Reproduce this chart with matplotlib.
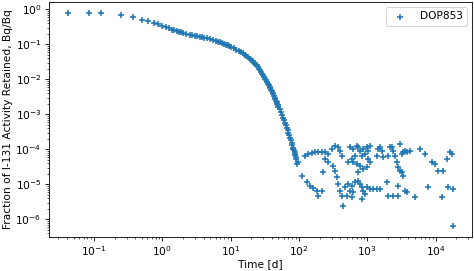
import matplotlib
matplotlib.use("Agg")
import matplotlib.pyplot as plt

# Smooth part of the retention curve (time in days, fraction retained)
curve_t = [0.0417, 0.0833, 0.125, 0.25, 0.375, 0.5, 0.625, 0.75, 0.875, 1.0,
           1.125, 1.25, 1.375, 1.5, 1.625, 1.75, 1.875, 2.0, 2.25, 2.5,
           2.75, 3.0, 3.25, 3.5, 3.75, 4.0, 4.5, 5.0, 5.5, 6.0,
           6.5, 7.0, 7.5, 8.0, 8.5, 9.0, 9.5, 10, 11, 12,
           13, 14, 15, 16, 17, 18, 19, 20, 21, 22,
           23, 24, 25, 26, 27, 28, 29, 30, 31, 32,
           33, 34, 35, 36, 37, 38, 39, 40, 41, 42,
           43, 44, 45, 46, 47, 48, 49, 50, 52, 54,
           56, 58, 60, 62, 64, 66, 68, 70, 72, 74,
           76, 78, 80, 82, 84, 86, 88, 90]
curve_f = [0.81, 0.79, 0.79, 0.70, 0.60, 0.51, 0.45, 0.41, 0.37, 0.34,
           0.31, 0.285, 0.265, 0.25, 0.238, 0.228, 0.22, 0.212, 0.20, 0.19,
           0.182, 0.175, 0.17, 0.165, 0.16, 0.155, 0.147, 0.14, 0.133, 0.126,
           0.12, 0.114, 0.108, 0.103, 0.098, 0.094, 0.089, 0.085, 0.078, 0.071,
           0.065, 0.060, 0.055, 0.051, 0.047, 0.043, 0.039, 0.036, 0.033, 0.030,
           0.0275, 0.025, 0.0225, 0.020, 0.018, 0.016, 0.0145, 0.013, 0.0116, 0.0104,
           0.0094, 0.0084, 0.0076, 0.0069, 0.0062, 0.0056, 0.0051, 0.0046, 0.0041, 0.0037,
           0.0033, 0.0030, 0.0027, 0.0024, 0.0022, 0.0020, 0.0018, 0.00165, 0.00138, 0.00115,
           0.00095, 0.00080, 0.00068, 0.00058, 0.00049, 0.00041, 0.00035, 0.00029, 0.00025, 0.00021,
           0.00018, 0.00015, 0.00013, 0.00011, 9.5e-5, 8.2e-5, 7.0e-5, 6.0e-5]

# Noisy tail (solver noise floor, only positive values show on log axis)
tail_t = [80.5, 86.2, 89.1, 92.2, 95.3, 109, 121, 129, 134, 143,
          153, 158, 169, 181, 187, 187, 214, 214, 222, 237,
          237, 262, 262, 301, 311, 333, 333, 356, 368, 368,
          394, 394, 421, 421, 436, 466, 552, 611, 699, 723,
          774, 857, 980, 1084, 1014, 916, 828, 653, 591, 516,
          611, 699, 774, 723, 857, 980, 1014, 1084, 1420, 1626,
          1373, 1682, 1991, 2278, 2357, 2522, 2698, 2790, 2985, 2985,
          3533, 3780, 516, 591, 653, 723, 552, 611, 499, 591,
          774, 828, 857, 916, 828, 980, 1084, 1200, 1373, 1520,
          1924, 1991, 2357, 2790, 3533, 1520, 2130, 3193, 3304, 4188,
          3193, 3304, 5866, 6946, 8790, 9730, 10770, 12760, 14600, 16150,
          17290, 3780, 4955, 7686, 12330, 15100, 17880, 17880, 2790]
tail_f = [1.03e-4, 7.4e-5, 5.4e-5, 3.9e-5, 4.4e-5, 1.75e-5, 6.5e-5, 1.18e-5, 7.4e-5, 9.1e-6,
          7.9e-5, 7.9e-6, 8.5e-5, 6.5e-6, 8.5e-5, 4.7e-6, 8.5e-5, 6.5e-6, 2.3e-5, 8.5e-5,
          5.4e-5, 7.4e-5, 4.4e-5, 1.03e-4, 3.4e-5, 1.26e-4, 2.4e-5, 1.64e-5, 1.18e-4, 1.03e-5,
          9.1e-5, 6.5e-6, 6.5e-5, 4.7e-6, 2.4e-6, 8.5e-6, 1.18e-4, 1.03e-4, 1.26e-4, 1.18e-4,
          9.1e-5, 1.03e-4, 1.18e-4, 1.26e-4, 9.1e-5, 7.4e-5, 6.5e-5, 6.5e-5, 5.4e-5, 4.4e-5,
          4.4e-5, 3.9e-5, 3.4e-5, 2.3e-5, 2.8e-5, 3.2e-5, 5.4e-5, 4.4e-5, 1.03e-4, 9.1e-5,
          6.5e-5, 6.1e-5, 6.5e-5, 1.18e-4, 9.1e-5, 6.5e-5, 4.4e-5, 3.2e-5, 2.4e-5, 1.44e-4,
          9.1e-5, 8.5e-5, 1.03e-5, 9.1e-6, 1.18e-5, 1.26e-5, 6.5e-6, 6.1e-6, 4.7e-6, 4.4e-6,
          1.03e-5, 8.5e-6, 6.5e-6, 5.4e-6, 3.9e-6, 8.5e-6, 7.4e-6, 7.4e-6, 7.4e-6, 7.4e-6,
          1.18e-5, 4.7e-6, 4.7e-6, 4.7e-6, 6.5e-6, 1.18e-4, 1.18e-4, 7.4e-5, 8.5e-5, 9.1e-5,
          2.3e-5, 1.75e-5, 1.03e-4, 7.4e-5, 4.4e-5, 3.9e-5, 2.4e-5, 2.4e-5, 5.4e-5, 8.5e-5,
          7.4e-5, 6.1e-6, 4.4e-6, 8.5e-6, 4.4e-6, 8.5e-6, 7.4e-6, 6.5e-7, 9.1e-6]

times = curve_t + tail_t
fraction = curve_f + tail_f

# figure drawn at 76.5 dpi so it comes out at 475x271 px
fig = plt.figure(figsize=(6.209, 3.543), dpi=76.5)
ax = fig.add_axes([0.103, 0.127, 0.891, 0.866])
ax.scatter(times, fraction, marker='+', color='tab:blue', label='DOP853')
ax.set_xscale('log')
ax.set_yscale('log')
ax.set_xlabel('Time [d]', labelpad=1.5)
ax.set_ylabel('Fraction of I-131 Activity Retained, Bq/Bq', labelpad=2.5)
ax.legend(loc='upper right')

plt.savefig("out.png", dpi=76.5)
